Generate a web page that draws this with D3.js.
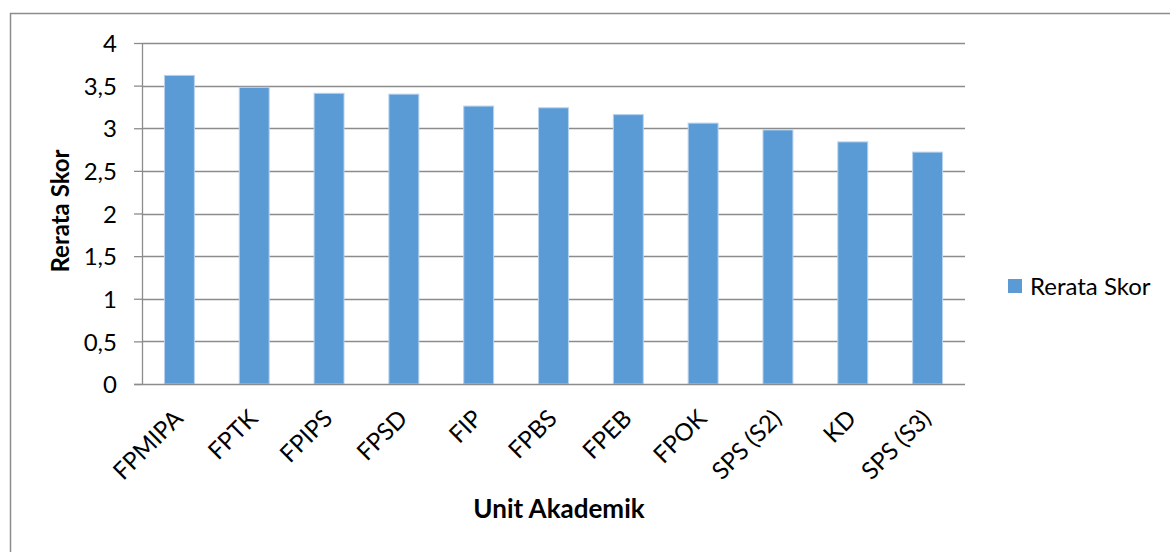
<!DOCTYPE html>
<html>
<head>
<meta charset="utf-8">
<script src="https://cdn.jsdelivr.net/npm/d3@7"></script>
<style>
  body { margin: 0; background: #fff; }
  text { font-family: Lato, "Open Sans", sans-serif; fill: #000; }
</style>
</head>
<body>
<div id="chart"></div>
<script>
let svgWidth = 1170;
let svgHeight = 552;

// Data
let units = ["FPMIPA", "FPTK", "FPIPS", "FPSD", "FIP", "FPBS", "FPEB", "FPOK", "SPS (S2)", "KD", "SPS (S3)"];
let skor = [3.62, 3.48, 3.41, 3.40, 3.26, 3.24, 3.16, 3.06, 2.98, 2.84, 2.72];
let yTicks = [0, 0.5, 1, 1.5, 2, 2.5, 3, 3.5, 4];
let seriesName = "Rerata Skor";

let plot = { left: 142, right: 965, top: 43, bottom: 384 };
let fontSize = "24px";

let svg = d3.select("#chart").append("svg")
  .attr("width", svgWidth)
  .attr("height", svgHeight);

// outer chart frame (only top and left visible)
svg.append("rect")
  .attr("x", 10.5).attr("y", 13.5)
  .attr("width", 1300).attr("height", 700)
  .attr("fill", "none")
  .attr("stroke", "#8c8c8c")
  .attr("stroke-width", 1.5);

let x = d3.scaleBand()
  .domain(units)
  .range([plot.left, plot.right])
  .paddingInner(0.6)
  .paddingOuter(0.3);

let y = d3.scaleLinear()
  .domain([0, 4])
  .range([plot.bottom, plot.top]);

// y ticks
let yAxis = svg.append("g")
  .attr("transform", `translate(${plot.left}, 0)`)
  .call(d3.axisLeft(y)
    .tickValues(yTicks)
    .tickSize(8)
    .tickFormat(d => String(d).replace(".", ",")));
yAxis.select(".domain").remove();
yAxis.selectAll(".tick line").attr("stroke", "#8c8c8c").attr("stroke-width", 1.3);
yAxis.selectAll(".tick text")
  .attr("x", -25)
  .attr("dy", "0.36em")
  .style("font-size", fontSize)
  .style("font-family", "Lato, sans-serif");

// gridlines
svg.append("g").selectAll("line.grid")
  .data(yTicks.filter(d => d > 0))
  .enter()
  .append("line")
  .attr("class", "grid")
  .attr("x1", plot.left)
  .attr("x2", plot.right)
  .attr("y1", d => Math.round(y(d)) + 0.5)
  .attr("y2", d => Math.round(y(d)) + 0.5)
  .attr("stroke", "#8c8c8c")
  .attr("stroke-width", 1.3);

// y axis line
svg.append("line")
  .attr("x1", plot.left + 0.5).attr("x2", plot.left + 0.5)
  .attr("y1", plot.top).attr("y2", plot.bottom)
  .attr("stroke", "#8c8c8c").attr("stroke-width", 1.3);

// bars
svg.append("g").selectAll("rect")
  .data(skor)
  .enter()
  .append("rect")
  .attr("x", (d, i) => x(units[i]))
  .attr("y", d => y(d))
  .attr("width", x.bandwidth())
  .attr("height", d => y(0) - y(d))
  .attr("fill", "#5b9bd5")
  .attr("stroke", "#b7d2ee")
  .attr("stroke-width", 1);

// x axis
let xAxis = svg.append("g")
  .attr("transform", `translate(0, ${plot.bottom})`)
  .call(d3.axisBottom(x).tickSize(0));
xAxis.select(".domain")
  .attr("d", `M${plot.left - 8},0.5H${plot.right}`)
  .attr("stroke", "#8c8c8c").attr("stroke-width", 1.5);
xAxis.selectAll(".tick text")
  .attr("text-anchor", "end")
  .attr("y", 0).attr("dy", 0)
  .attr("transform", "translate(5, 36) rotate(-45)")
  .style("font-size", fontSize)
  .style("font-family", "Lato, sans-serif");

// axis titles
svg.append("text")
  .attr("x", 559)
  .attr("y", 518)
  .attr("text-anchor", "middle")
  .style("font-size", "26px")
  .style("font-weight", "bold")
  .text("Unit Akademik");

svg.append("text")
  .attr("transform", "translate(69, 211) rotate(-90)")
  .attr("text-anchor", "middle")
  .style("font-size", "24px")
  .style("font-weight", "bold")
  .text("Rerata Skor");

// legend
let legend = svg.append("g").attr("transform", "translate(1008, 279)");
legend.append("rect")
  .attr("width", 14).attr("height", 14)
  .attr("fill", "#5b9bd5");
legend.append("text")
  .attr("x", 22).attr("y", 7)
  .attr("dy", "0.36em")
  .style("font-size", fontSize)
  .text(seriesName);
</script>
</body>
</html>
